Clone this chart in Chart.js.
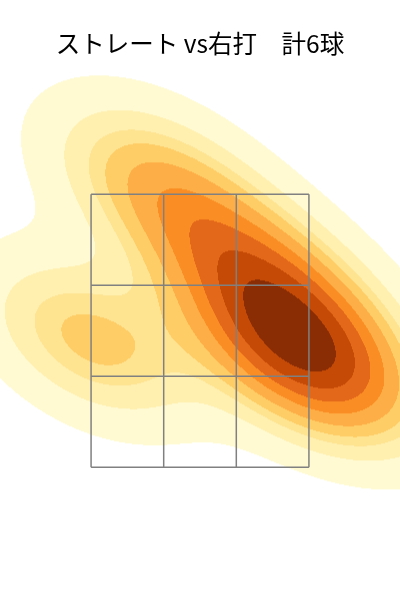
<!DOCTYPE html>
<html>
<head>
<meta charset="utf-8">
<script src="https://cdn.jsdelivr.net/npm/chart.js@4"></script>
<style>
  html, body { margin: 0; padding: 0; background: #fff; }
  #wrap { width: 400px; height: 600px; }
</style>
</head>
<body>
<div id="wrap"><canvas id="kde"></canvas></div>
<script>
const titleText = "ストレート vs右打　計6球";

// pitch locations (plate_x, plate_z in feet)
const pitchX = [-0.71, -0.29, 0.23, 0.59, 0.59, 0.85];
const pitchZ = [2.43, 3.60, 3.05, 2.65, 2.35, 2.17];

// strike zone 3x3 grid
const zoneX = [-0.708, -0.236, 0.236, 0.708];
const zoneZ = [1.5, 2.167, 2.833, 3.5];

// 9 filled bands, outer -> inner (YlOrBr)
const bandColors = ["#fffad2", "#fff0b0", "#fee391", "#fecd66", "#feae46",
                    "#fa8e25", "#e4681a", "#c44a06", "#8a2d05"];
const levelCount = 10;
const thresh = 0.05;
const bwAdjust = 1.04;

function buildKde(xs, zs) {
  const n = xs.length;
  const mx = xs.reduce((s, v) => s + v, 0) / n;
  const mz = zs.reduce((s, v) => s + v, 0) / n;
  let sxx = 0, szz = 0, sxz = 0;
  for (let i = 0; i < n; i++) {
    sxx += (xs[i] - mx) ** 2;
    szz += (zs[i] - mz) ** 2;
    sxz += (xs[i] - mx) * (zs[i] - mz);
  }
  const f2 = Math.pow(Math.pow(n, -1 / 6) * bwAdjust, 2); // scott factor squared
  const a = sxx / (n - 1) * f2, d = szz / (n - 1) * f2, b = sxz / (n - 1) * f2;
  const det = a * d - b * b;
  const ia = d / det, id = a / det, ib = -b / det;
  const norm = 1 / (n * 2 * Math.PI * Math.sqrt(det));
  const dens = (x, z) => {
    let s = 0;
    for (let i = 0; i < n; i++) {
      const dx = x - xs[i], dz = z - zs[i];
      s += Math.exp(-0.5 * (ia * dx * dx + 2 * ib * dx * dz + id * dz * dz));
    }
    return s * norm;
  };
  // iso-proportion levels on a 200x200 support grid (cut = 3)
  const bx = Math.sqrt(a), bz = Math.sqrt(d);
  const x0 = Math.min(...xs) - 3 * bx, x1 = Math.max(...xs) + 3 * bx;
  const z0 = Math.min(...zs) - 3 * bz, z1 = Math.max(...zs) + 3 * bz;
  const g = 200, vals = [];
  for (let i = 0; i < g; i++) {
    for (let j = 0; j < g; j++) {
      vals.push(dens(x0 + (x1 - x0) * i / (g - 1), z0 + (z1 - z0) * j / (g - 1)));
    }
  }
  vals.sort((p, q) => q - p);
  const total = vals.reduce((s, v) => s + v, 0);
  const cum = [];
  let c = 0;
  for (const v of vals) { c += v; cum.push(c / total); }
  const levels = [];
  for (let k = 0; k < levelCount; k++) {
    const q = thresh + (1 - thresh) * k / (levelCount - 1);
    let idx = cum.findIndex(v => v >= 1 - q);
    if (idx < 0) idx = vals.length - 1;
    levels.push(vals[idx]);
  }
  levels.sort((p, q) => p - q);
  return { dens, levels };
}

const kdePlugin = {
  id: "kdeFill",
  beforeDatasetsDraw(chart) {
    const { ctx, chartArea: ca, scales } = chart;
    const ds = chart.data.datasets[0].data;
    const model = buildKde(ds.map(p => p.x), ds.map(p => p.y));
    const w = Math.round(ca.right - ca.left), h = Math.round(ca.bottom - ca.top);
    const off = document.createElement("canvas");
    off.width = w; off.height = h;
    const octx = off.getContext("2d");
    const img = octx.createImageData(w, h);
    const rgb = bandColors.map(c => [1, 3, 5].map(k => parseInt(c.substr(k, 2), 16)));
    const lv = model.levels;
    for (let py = 0; py < h; py++) {
      const z = scales.y.getValueForPixel(ca.top + py + 0.5);
      for (let px = 0; px < w; px++) {
        const x = scales.x.getValueForPixel(ca.left + px + 0.5);
        const v = model.dens(x, z);
        if (v < lv[0]) continue;
        let band = 0;
        while (band < bandColors.length - 1 && v >= lv[band + 1]) band++;
        const o = (py * w + px) * 4;
        img.data[o] = rgb[band][0];
        img.data[o + 1] = rgb[band][1];
        img.data[o + 2] = rgb[band][2];
        img.data[o + 3] = 255;
      }
    }
    octx.putImageData(img, 0, 0);
    ctx.save();
    ctx.drawImage(off, ca.left, ca.top);
    ctx.restore();
  }
};

const gridSets = [];
zoneX.forEach(x => gridSets.push({
  data: [{ x: x, y: zoneZ[0] }, { x: x, y: zoneZ[zoneZ.length - 1] }],
  showLine: true, pointRadius: 0, borderColor: "#808080", borderWidth: 1.5
}));
zoneZ.forEach(z => gridSets.push({
  data: [{ x: zoneX[0], y: z }, { x: zoneX[zoneX.length - 1], y: z }],
  showLine: true, pointRadius: 0, borderColor: "#808080", borderWidth: 1.5
}));

new Chart(document.getElementById("kde"), {
  type: "scatter",
  data: {
    datasets: [
      { label: "pitches", data: pitchX.map((x, i) => ({ x: x, y: pitchZ[i] })), pointRadius: 0 },
      ...gridSets
    ]
  },
  options: {
    responsive: true,
    maintainAspectRatio: false,
    animation: false,
    layout: { padding: { left: 0, right: 0, top: 0, bottom: 40 } },
    plugins: {
      legend: { display: false },
      tooltip: { enabled: false },
      title: {
        display: true,
        text: titleText,
        color: "#000",
        font: { family: "'Noto Sans CJK JP', 'Noto Sans', sans-serif", size: 24.5, weight: "normal" },
        padding: { top: 29, bottom: 13 }
      }
    },
    scales: {
      x: { type: "linear", min: -1.3, max: 1.3, display: false },
      y: { type: "linear", min: 0.82, max: 4.4, display: false }
    }
  },
  plugins: [kdePlugin]
});
</script>
</body>
</html>
